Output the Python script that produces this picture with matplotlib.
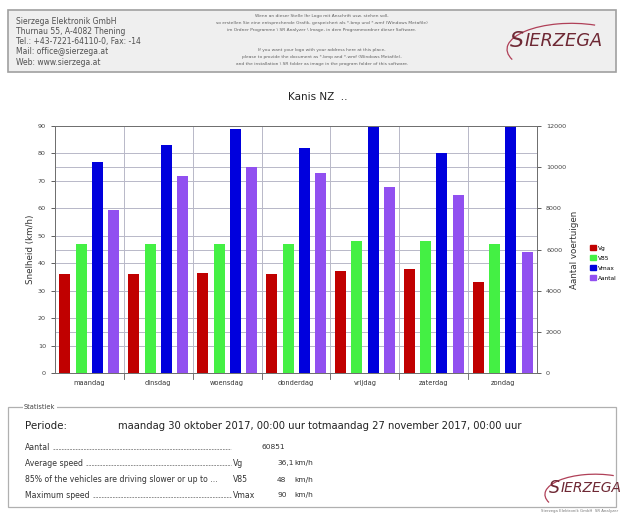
import matplotlib
matplotlib.use('Agg')
from matplotlib import pyplot as plt
from matplotlib.patches import Rectangle, Arc
import numpy as np

days = ['maandag', 'dinsdag', 'woensdag', 'donderdag', 'vrijdag', 'zaterdag', 'zondag']
vg = [36, 36, 36.5, 36, 37, 38, 33]
v85 = [47, 47, 47, 47, 48, 48, 47]
vmax = [77, 83, 89, 82, 90, 80, 90]
aantal = [7940, 9590, 10010, 9730, 9060, 8660, 5860]

speed_ticks = list(range(0, 91, 10))
count_ticks = list(range(0, 12001, 2000))

stat_labels = ['Aantal', 'Average speed', '85% of the vehicles are driving slower or up to ...',
               'Maximum speed']
stat_codes = ['', 'Vg', 'V85', 'Vmax']
stat_numbers = ['60851', '36,1', '48', '90']
stat_units = ['', 'km/h', 'km/h', 'km/h']

header_lines = ['Sierzega Elektronik GmbH',
                'Thurnau 55, A-4082 Thening',
                'Tel.: +43-7221-64110-0, Fax: -14',
                'Mail: office@sierzega.at',
                'Web: www.sierzega.at']
note_lines = ['Wenn an dieser Stelle Ihr Logo mit Anschrift usw. stehen soll,',
              'so erstellen Sie eine entsprechende Grafik, gespeichert als *.bmp und *.wmf (Windows Metafile)',
              'im Ordner Programme \\ SR Analyzer \\ Image, in dem Programmordner dieser Software.',
              'If you want your logo with your address here at this place,',
              'please to provide the document as *.bmp and *.wmf (Windows Metafile),',
              'and the installation \\ SR folder as image in the program folder of this software.']

colors = ['#c00000', '#44f044', '#0000dd', '#9150f0']
names = ['Vg', 'V85', 'Vmax', 'Aantal']

W, H = 624, 515
fig = plt.figure(figsize=(W / 100, H / 100), dpi=100)


def fx(px):
    return px / W


def fy(py):
    return 1 - py / H


# header box
fig.patches.append(Rectangle((fx(8), fy(72)), fx(608), 62 / H, transform=fig.transFigure,
                             facecolor='#efefef', edgecolor='#a0a0a0', lw=1.2, zorder=-1))
for i, line in enumerate(header_lines):
    fig.text(fx(16), fy(21 + i * 10.3), line, fontsize=5.5, color='#505050', va='center')
for i, line in enumerate(note_lines):
    yy = [16, 23, 30, 50, 57, 64][i]
    fig.text(fx(322), fy(yy), line, fontsize=3.2, color='#606060', ha='center', va='center')


def logo(x, y, size):
    fig.text(fx(x), fy(y), 'S', fontsize=size, style='italic', color='#6e2834',
             va='center', ha='left')
    fig.text(fx(x + size * 0.9), fy(y + 0.5), 'IERZEGA', fontsize=size * 0.8, style='italic',
             color='#6e2834', va='center', ha='left')
    ax_l = fig.add_axes([fx(x - 8), fy(y + size * 1.3), fx(size * 7), size * 2.6 / H])
    ax_l.set_xlim(0, 1)
    ax_l.set_ylim(0, 1)
    ax_l.axis('off')
    ax_l.add_patch(Arc((0.62, 0.3), 1.15, 1.25, theta1=70, theta2=205, color='#b04058', lw=0.9))


logo(510, 41, 16)

# title
fig.text(fx(318), fy(97), 'Kanis NZ  ..', fontsize=7.5, ha='center', va='center', color='#222222')

# chart
ax = fig.add_axes([fx(55), fy(373), fx(482), 247 / H])
ax2 = ax.twinx()
x = np.arange(len(days))
offs = [-0.355, -0.115, 0.12, 0.355]
bw = 0.16
for vals, off, c, n in zip([vg, v85, vmax], offs[:3], colors[:3], names[:3]):
    ax.bar(x + off, vals, bw, color=c, label=n, zorder=3)
ax2.bar(x + offs[3], aantal, bw, color=colors[3], label=names[3], zorder=3)

ax.set_xlim(-0.5, len(days) - 0.5)
ax.set_ylim(0, 90)
ax2.set_ylim(0, 12000)
ax.set_yticks(speed_ticks)
ax2.set_yticks(count_ticks)
ax.set_xticks(x)
ax.set_xticklabels(days, fontsize=4.8, color='#333333')
ax.tick_params(axis='x', length=0, pad=5)
ax.tick_params(axis='y', labelsize=4.6, colors='#444444', length=3, width=0.6)
ax2.tick_params(axis='y', labelsize=4.6, colors='#444444', length=3, width=0.6)
for v in speed_ticks:
    ax.axhline(v, color='#b8b8c8', lw=0.7, zorder=0)
for v in count_ticks:
    ax.axhline(v * 90 / 12000, color='#b8b8c8', lw=0.7, zorder=0)
for b in np.arange(0.5, len(days) - 0.5, 1):
    ax.axvline(b, color='#b8b8c8', lw=0.7, zorder=0)
    ax.plot([b, b], [0, -0.025], transform=ax.get_xaxis_transform(), color='#606060',
            lw=0.6, clip_on=False)
for a in (ax, ax2):
    for s in a.spines.values():
        s.set_color('#707070')
        s.set_linewidth(0.7)
ax.set_ylabel('Snelheid (km/h)', fontsize=6.3, color='#333333', labelpad=2)
ax2.set_ylabel('Aantal voertuigen', fontsize=6.3, color='#333333', rotation=90, labelpad=3)

handles = [Rectangle((0, 0), 1, 1, color=c) for c in colors]
fig.legend(handles, names, loc='center left', bbox_to_anchor=(fx(590), fy(263)),
           frameon=False, fontsize=4.2, handlelength=1.0, handleheight=1.0,
           handletextpad=0.4, labelspacing=0.75, borderaxespad=0, borderpad=0)

# statistics box
fig.patches.append(Rectangle((fx(8), fy(507)), fx(608), 100 / H, transform=fig.transFigure,
                             facecolor='none', edgecolor='#b0b0b0', lw=0.9))
fig.text(fx(24), fy(407), 'Statistiek', fontsize=4.8, color='#444444', va='center',
         bbox=dict(facecolor='white', edgecolor='none', pad=1))
fig.text(fx(25), fy(426), 'Periode:', fontsize=7.4, color='#222222', va='center')
fig.text(fx(118), fy(426),
         'maandag 30 oktober 2017, 00:00 uur totmaandag 27 november 2017, 00:00 uur',
         fontsize=7.2, color='#222222', va='center')
renderer = fig.canvas.get_renderer()
for i in range(len(stat_labels)):
    py = [447, 463, 480, 495][i]
    yy = fy(py)
    t = fig.text(fx(25), yy, stat_labels[i], fontsize=5.6, color='#333333', va='center')
    if stat_codes[i] != 'V85':
        x0 = t.get_window_extent(renderer).x1 / W + fx(3)
        fig.add_artist(plt.Line2D([x0, fx(231)], [fy(py + 2.2)] * 2, transform=fig.transFigure,
                                  color='#666666', lw=0.5, ls=(0, (2.5, 1.5))))
    fig.text(fx(233), yy, stat_codes[i], fontsize=5.6, color='#333333', va='center')
    if stat_units[i]:
        fig.text(fx(277), yy, stat_numbers[i], fontsize=5.4, color='#333333', va='center')
        fig.text(fx(294), yy, stat_units[i], fontsize=5.4, color='#333333', va='center')
    else:
        fig.text(fx(262), yy, stat_numbers[i], fontsize=5.4, color='#333333', va='center')

logo(549, 488, 12.5)

fig.text(fx(618), fy(511), 'Sierzega Elektronik GmbH  SR Analyzer', fontsize=2.8,
         color='#777777', ha='right', va='center')

fig.savefig('out.png', dpi=100)
